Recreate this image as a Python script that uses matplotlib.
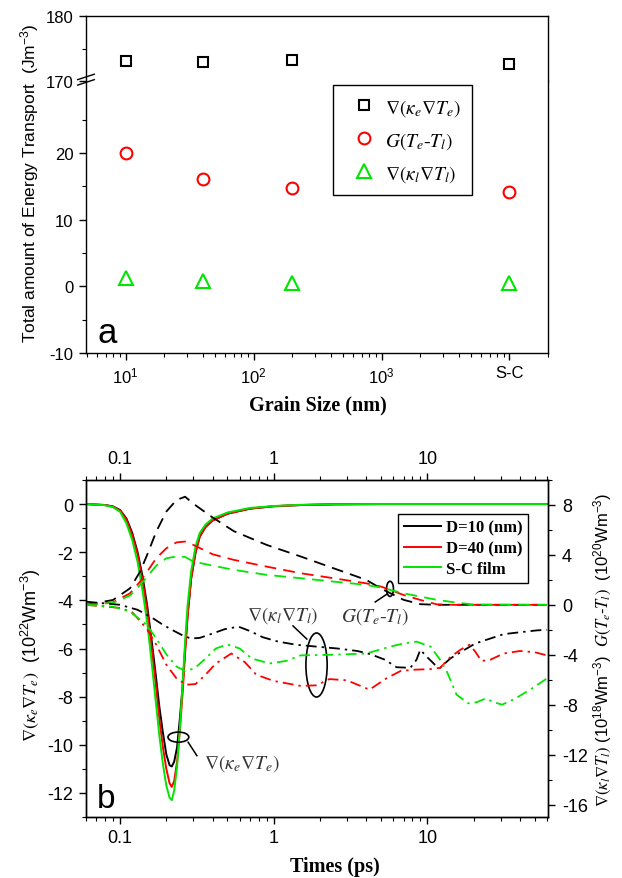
import matplotlib
matplotlib.use("Agg")
import matplotlib.pyplot as plt
from matplotlib.patches import Ellipse
from matplotlib.lines import Line2D
from matplotlib.ticker import FixedLocator, FixedFormatter, LogLocator, NullFormatter, MultipleLocator

plt.rcParams['font.family'] = ['Liberation Sans', 'DejaVu Sans']
plt.rcParams['mathtext.fontset'] = 'stix'
plt.rcParams['axes.linewidth'] = 1.0
plt.rcParams['axes.unicode_minus'] = False

GREEN = '#00e600'
SERIF = 'Liberation Serif'

# ---------------- panel a data ----------------
grain_size = [10, 40, 200, 10000]          # S-C film drawn at 10^4
grain_ticks = [10, 100, 1000, 10000]
grain_tick_labels = [r'$\mathregular{10^1}$', r'$\mathregular{10^2}$',
                     r'$\mathregular{10^3}$', 'S-C']
div_e_total = [173.1, 173.0, 173.2, 172.6]
coupling_total = [20.0, 16.15, 14.7, 14.2]
div_l_total = [1.3, 0.85, 0.55, 0.55]
labels_a = [r'$\nabla(\kappa_e\nabla T_e)$', r'$G(T_e$-$T_l)$',
            r'$\nabla(\kappa_l\nabla T_l)$']

# ---------------- panel b data ----------------
# electron diffusion term, 10^22 W m^-3 (left axis)
t_e = [0.06, 0.08, 0.09, 0.10, 0.11, 0.12, 0.13, 0.14, 0.15, 0.16, 0.17, 0.18,
       0.19, 0.20, 0.21, 0.217, 0.225, 0.235, 0.245, 0.255, 0.265, 0.275, 0.29,
       0.31, 0.33, 0.36, 0.40, 0.5, 0.7, 1.0, 1.5, 2.5, 5, 60]
e_d10 = [0, -0.04, -0.1, -0.25, -0.6, -1.2, -2.0, -3.0, -4.2, -5.6, -7.0, -8.4,
         -9.5, -10.4, -10.85, -10.9, -10.7, -10.1, -8.9, -7.6, -6.0, -4.6, -3.1,
         -2.0, -1.35, -0.95, -0.68, -0.4, -0.19, -0.09, -0.04, -0.01, 0, 0]
e_d40 = [0, -0.04, -0.11, -0.27, -0.65, -1.3, -2.1, -3.2, -4.4, -5.9, -7.4, -8.9,
         -10.1, -11.0, -11.6, -11.75, -11.5, -10.7, -9.4, -7.9, -6.2, -4.7, -3.1,
         -2.0, -1.35, -0.95, -0.68, -0.4, -0.19, -0.09, -0.04, -0.01, 0, 0]
e_sc = [0, -0.05, -0.13, -0.32, -0.8, -1.5, -2.4, -3.6, -4.9, -6.5, -8.1, -9.6,
        -10.8, -11.7, -12.2, -12.3, -11.9, -10.9, -9.3, -7.5, -5.7, -4.2, -2.8,
        -1.75, -1.2, -0.85, -0.6, -0.35, -0.16, -0.08, -0.03, -0.01, 0, 0]

# electron-phonon coupling, 10^20 W m^-3 (right axis)
t_g = [0.06, 0.09, 0.116, 0.135, 0.15, 0.172, 0.2, 0.233, 0.265, 0.3, 0.4,
       0.55, 0.9, 1.5, 2.45, 4.0, 5.0, 7.0, 9.0, 11.5, 15, 20, 60]
g_d10 = [0, 0.39, 1.32, 2.66, 4.0, 5.87, 7.47, 8.4, 8.66, 8.1, 7.0,
         5.9, 4.8, 3.87, 2.93, 2.0, 1.3, 0.4, 0.05, 0, 0, 0, 0]
g_d40 = [0, 0.2, 0.92, 1.86, 2.66, 3.73, 4.53, 5.0, 5.07, 4.8, 4.05,
         3.6, 3.06, 2.53, 2.13, 1.72, 1.46, 0.79, 0.39, 0.04, 0, 0, 0]
g_sc = [0, 0.16, 0.74, 1.6, 2.26, 3.14, 3.73, 3.87, 3.84, 3.46, 3.14,
        2.8, 2.4, 2.13, 1.86, 1.6, 1.38, 0.92, 0.66, 0.4, 0.2, 0.02, 0]

# lattice diffusion term, 10^18 W m^-3 (right axis)
t_l_d10 = [0.06, 0.1, 0.13, 0.16, 0.19, 0.225, 0.26, 0.29, 0.33, 0.4, 0.48, 0.59,
           0.7, 0.85, 1.07, 1.4, 1.9, 2.6, 3.5, 4.25, 5.3, 6.3, 7.75, 8.5, 9.0,
           9.8, 11.2, 12.1, 14.1, 17.5, 20.5, 25.7, 31.4, 40, 51.5, 60]
l_d10 = [0.25, 0, -0.4, -1.0, -1.6, -2.1, -2.5, -2.7, -2.65, -2.3, -1.95, -1.75,
         -2.1, -2.6, -2.95, -3.2, -3.35, -3.5, -3.7, -3.95, -4.4, -5.0, -5.05, -4.4,
         -3.6, -4.1, -4.8, -5.05, -4.3, -3.6, -3.1, -2.7, -2.35, -2.2, -2.05, -2.0]
t_l_d40 = [0.06, 0.1, 0.12, 0.149, 0.172, 0.2, 0.233, 0.27, 0.31, 0.36, 0.42, 0.53,
           0.65, 0.77, 1.0, 1.5, 1.9, 2.3, 3.0, 4.2, 5.4, 6.7, 8.2, 10.5, 12.1,
           14.1, 16.4, 18.8, 20.5, 22.5, 25.7, 31.4, 40, 50, 60]
l_d40 = [0, -0.25, -0.6, -1.9, -3.2, -4.8, -5.9, -6.4, -6.35, -5.6, -4.7, -3.9,
         -4.6, -5.6, -6.1, -6.5, -6.45, -5.95, -6.05, -6.8, -5.9, -5.3, -5.2, -5.15,
         -5.05, -4.2, -3.6, -3.2, -3.75, -4.5, -4.4, -3.9, -3.7, -3.8, -4.05]
t_l_sc = [0.06, 0.09, 0.116, 0.149, 0.172, 0.201, 0.233, 0.265, 0.305, 0.36, 0.42,
          0.5, 0.6, 0.72, 0.94, 1.2, 1.5, 2.45, 4.0, 5.74, 7.0, 8.5, 10.5, 12.1,
          13.4, 15.5, 18.5, 21, 24, 27, 30.7, 37.5, 48, 60]
l_sc = [0, -0.15, -0.55, -1.6, -2.7, -4.0, -4.95, -5.3, -5.1, -4.3, -3.5,
        -3.17, -3.5, -4.3, -4.7, -4.5, -4.05, -4.0, -3.9, -3.35, -3.1, -2.95, -3.35,
        -4.4, -5.35, -7.2, -7.9, -7.8, -7.5, -7.8, -8.0, -7.5, -6.7, -5.9]

film_labels = ['D=10 (nm)', 'D=40 (nm)', 'S-C film']
film_colors = ['black', 'red', GREEN]

fig = plt.figure(figsize=(6.22, 8.79), dpi=100)
FW, FH = 622.0, 879.0
L, W = 86 / FW, 462 / FW

# ---------------- panel a ----------------
ax_hi = fig.add_axes([L, 1 - 82 / FH, W, 65 / FH])
ax_lo = fig.add_axes([L, 1 - 354 / FH, W, 272 / FH])
for ax in (ax_hi, ax_lo):
    ax.set_xscale('log')
    ax.set_xlim(4.9, 2e4)
    ax.tick_params(which='both', direction='out', right=False, top=False,
                   labelsize=12, pad=4)
    ax.tick_params(which='major', length=5, width=1)
    ax.tick_params(which='minor', length=3, width=0.8)
ax_hi.set_ylim(170, 180)
ax_hi.yaxis.set_major_locator(FixedLocator([170, 180]))
ax_hi.yaxis.set_minor_locator(FixedLocator([175]))
ax_hi.spines['bottom'].set_visible(False)
ax_hi.tick_params(which='both', bottom=False, labelbottom=False)
ax_lo.set_ylim(-10, 30.8)
ax_lo.spines['top'].set_visible(False)
ax_lo.yaxis.set_major_locator(FixedLocator([-10, 0, 10, 20]))
ax_lo.yaxis.set_minor_locator(FixedLocator([-5, 5, 15, 25]))
ax_lo.xaxis.set_major_locator(FixedLocator(grain_ticks))
ax_lo.xaxis.set_major_formatter(FixedFormatter(grain_tick_labels))
ax_lo.xaxis.set_minor_locator(LogLocator(base=10, subs=range(2, 10)))
ax_lo.xaxis.set_minor_formatter(NullFormatter())

ax_hi.plot(grain_size, div_e_total, ls='none', marker='s', ms=7.5, mfc='none',
           mec='black', mew=1.5)
ax_lo.plot(grain_size, coupling_total, ls='none', marker='o', ms=8.5, mfc='none',
           mec='red', mew=1.5)
ax_lo.plot(grain_size, div_l_total, ls='none', marker='^', ms=9.5, mfc='none',
           mec=GREEN, mew=1.5)

handles_a = [Line2D([], [], ls='none', marker='s', ms=7.5, mfc='none', mec='black', mew=1.5),
             Line2D([], [], ls='none', marker='o', ms=8.5, mfc='none', mec='red', mew=1.5),
             Line2D([], [], ls='none', marker='^', ms=9.5, mfc='none', mec=GREEN, mew=1.5)]
leg_a = ax_lo.legend(handles_a, labels_a, loc='upper left', bbox_to_anchor=(0.535, 0.985),
                     prop={'family': SERIF, 'size': 14}, fancybox=False, edgecolor='black',
                     framealpha=1, labelspacing=0.62, handlelength=2.0, handletextpad=0.05,
                     borderpad=0.6, borderaxespad=0)
leg_a.get_frame().set_linewidth(1.0)

# axis break mark on the left spine
ax_lo.plot([-0.018, 0.018], [0.985, 1.005], transform=ax_lo.transAxes, color='black',
           lw=1, clip_on=False)
ax_lo.plot([-0.018, 0.018], [1.005, 1.025], transform=ax_lo.transAxes, color='black',
           lw=1, clip_on=False)
ax_lo.text(0.024, 0.04, 'a', transform=ax_lo.transAxes, fontsize=25, va='baseline')

fig.text(30 / FW, 1 - 183 / FH, r'Total amount of Energy Transport  $\mathregular{(Jm^{-3})}$',
         rotation=90, ha='center', va='center', fontsize=12.5)
fig.text(318 / FW, 1 - 405 / FH, 'Grain Size (nm)', ha='center', va='center',
         fontsize=14.5, family=SERIF, weight='bold')

# ---------------- panel b ----------------
axb = fig.add_axes([L, 1 - 818 / FH, W, 337 / FH])
axb.set_xscale('log')
axb.set_xlim(0.06, 61)
axb.set_ylim(-13, 1)
axr = axb.twinx()
axr.set_ylim(-17, 10)

for t, e, c in zip([t_e] * 3, [e_d10, e_d40, e_sc], film_colors):
    axb.plot(t, e, color=c, lw=1.4)
for g, c in zip([g_d10, g_d40, g_sc], film_colors):
    axr.plot(t_g, g, color=c, lw=1.3, dashes=(6.5, 4))
for t, v, c in zip([t_l_d10, t_l_d40, t_l_sc], [l_d10, l_d40, l_sc], film_colors):
    axr.plot(t, v, color=c, lw=1.3, dashes=(6, 2.8, 1.3, 2.8))

axb.xaxis.set_major_locator(FixedLocator([0.1, 1, 10]))
axb.xaxis.set_major_formatter(FixedFormatter(['0.1', '1', '10']))
axb.xaxis.set_minor_locator(LogLocator(base=10, subs=range(2, 10)))
axb.xaxis.set_minor_formatter(NullFormatter())
axb.yaxis.set_major_locator(MultipleLocator(2))
axb.yaxis.set_minor_locator(MultipleLocator(1))
axr.yaxis.set_major_locator(MultipleLocator(4))
axr.yaxis.set_minor_locator(MultipleLocator(2))
axb.tick_params(which='both', direction='out', top=True, labeltop=True, right=False,
                labelsize=13, pad=4)
axb.tick_params(which='major', length=5, width=1)
axb.tick_params(which='minor', length=3, width=0.8)
axr.tick_params(which='both', direction='out', labelsize=13, pad=5)
axr.tick_params(which='major', length=5, width=1)
axr.tick_params(which='minor', length=3, width=0.8)

handles_b = [Line2D([], [], color=c, lw=1.4) for c in film_colors]
leg_b = axr.legend(handles_b, film_labels, loc='upper right', bbox_to_anchor=(0.957, 0.899),
                   prop={'family': SERIF, 'size': 12, 'weight': 'bold'}, fancybox=False,
                   edgecolor='black', framealpha=1, handlelength=2.2, labelspacing=0.28,
                   borderpad=0.35, handletextpad=0.3, borderaxespad=0)
leg_b.get_frame().set_linewidth(1.0)

# annotations (axes-fraction positions)
ann_kw = dict(transform=axr.transAxes, ha='center', va='center', fontsize=14,
              family=SERIF, color='#333333')
axr.text(0.426, 0.602, r'$\nabla(\kappa_l\nabla T_l)$', **ann_kw)
axr.text(0.626, 0.599, r'$G(T_e$-$T_l)$', **ann_kw)
axr.text(0.338, 0.163, r'$\nabla(\kappa_e\nabla T_e)$', **ann_kw)
for (cx, cy, ew, eh) in [(0.499, 0.451, 0.046, 0.19), (0.658, 0.677, 0.015, 0.045),
                         (0.2, 0.237, 0.045, 0.03)]:
    axr.add_patch(Ellipse((cx, cy), ew, eh, transform=axr.transAxes, fill=False,
                          edgecolor='black', lw=1.2))
for (x0, y0, x1, y1) in [(0.448, 0.567, 0.478, 0.528), (0.626, 0.638, 0.652, 0.662),
                         (0.221, 0.222, 0.24, 0.182)]:
    axr.plot([x0, x1], [y0, y1], transform=axr.transAxes, color='black', lw=1.1)

axb.text(0.024, 0.03, 'b', transform=axb.transAxes, fontsize=24, va='baseline')

fig.text(31 / FW, 1 - 655 / FH,
         r'$\nabla(\kappa_e\nabla T_e)$  $\mathregular{(10^{22}Wm^{-3})}$',
         rotation=90, ha='center', va='center', fontsize=13)
fig.text(603 / FW, 1 - 650 / FH,
         r'$\nabla(\kappa_l\nabla T_l)$ $\mathregular{(10^{18}Wm^{-3})}$  '
         r'$G(T_e$-$T_l)$  $\mathregular{(10^{20}Wm^{-3})}$',
         rotation=90, ha='center', va='center', fontsize=12)
fig.text(335 / FW, 1 - 867 / FH, 'Times (ps)', ha='center', va='center',
         fontsize=14.5, family=SERIF, weight='bold')

fig.savefig('out.png', dpi=100)
